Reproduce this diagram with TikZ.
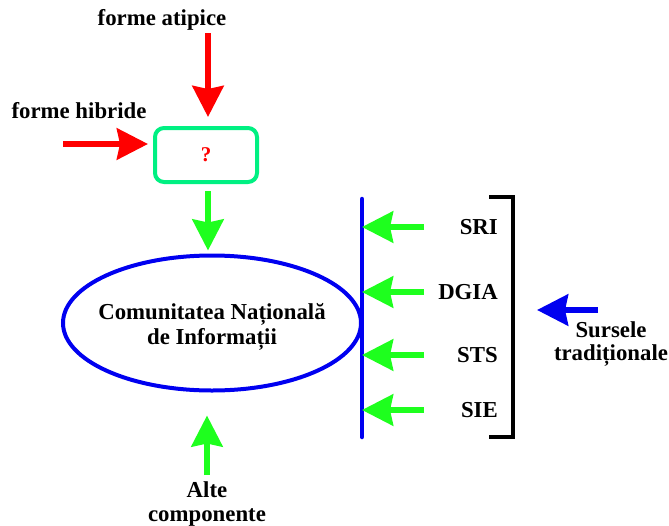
\documentclass[tikz,border=0pt]{standalone}
\usepackage{fontspec}
\setmainfont{Liberation Serif}
\usetikzlibrary{arrows.meta,shapes.geometric}
\definecolor{mint}{RGB}{0,240,130}
\definecolor{vgreen}{RGB}{30,255,30}
\definecolor{vblue}{RGB}{0,0,240}
\tikzset{
  fat/.style={line width=6pt,-{Stealth[length=31pt,width=31pt,inset=3pt]}},
  lbl/.style={font=\bfseries\fontsize{22.8}{23.5}\selectfont,inner sep=0pt},
  qbox/.style={draw=mint,line width=4pt,rounded corners=9pt,minimum width=102pt,minimum height=54pt,text=red},
  cni/.style={draw=vblue,line width=4pt,ellipse,minimum width=298pt,minimum height=135pt,inner sep=0pt},
  bar/.style={line width=4.5pt,line cap=round},
  brk/.style={line width=4pt}
}
\begin{document}
\begin{tikzpicture}[x=1pt,y=-1pt]
\useasboundingbox (0,0) rectangle (669,525);
\node[lbl] (atip) at (162,20) {forme atipice};
\node[lbl] (hibr) at (79,111) {forme hibride};
\node[qbox] (q) at (206,155) {\bfseries\fontsize{21}{22}\selectfont ?};
\node[cni] (cni) at (212,323) {};
\node[lbl,align=center,font=\bfseries\fontsize{22.8}{25}\selectfont] (cnit) at (212,327) {Comunitatea Națională\\de Informații};
\node[lbl,align=center] (alte) at (207,504) {Alte\\componente};
\coordinate (a1) at (208,33);
\draw[fat,red,shorten >=9pt] (a1) -- (a1 |- q.north);
\coordinate (h1) at (63,144);
\draw[fat,red,shorten >=5pt] (h1) -- (h1 -| q.west);
\draw[fat,vgreen,shorten <=7pt,shorten >=3pt] (a1 |- q.south) -- (a1 |- cni.north);
\coordinate (u1) at (207,475);
\draw[fat,vgreen,shorten >=23pt] (u1) -- (u1 |- cni.south);
\coordinate (bt) at (362,199);
\coordinate (bb) at (362,437);
\draw[bar,vblue] (bt) -- (bb);
\foreach \n/\t/\y in {sri/SRI/227,dgia/DGIA/292,sts/STS/355,sie/SIE/410}{
  \node[lbl,anchor=east] (\n) at (498,\y) {\t};
  \coordinate (t\n) at (424,\y);
  \draw[fat,vgreen] (t\n) -- (t\n -| bt);
}
\draw[brk] (489,197) -- (513,197) -- (513,437) -- (489,437);
\coordinate (st) at (598,310);
\draw[fat,vblue] (st) -- ++(-61,0);
\node[lbl,align=center] (surs) at (611,344) {Sursele\\tradiționale};
\end{tikzpicture}
\end{document}
